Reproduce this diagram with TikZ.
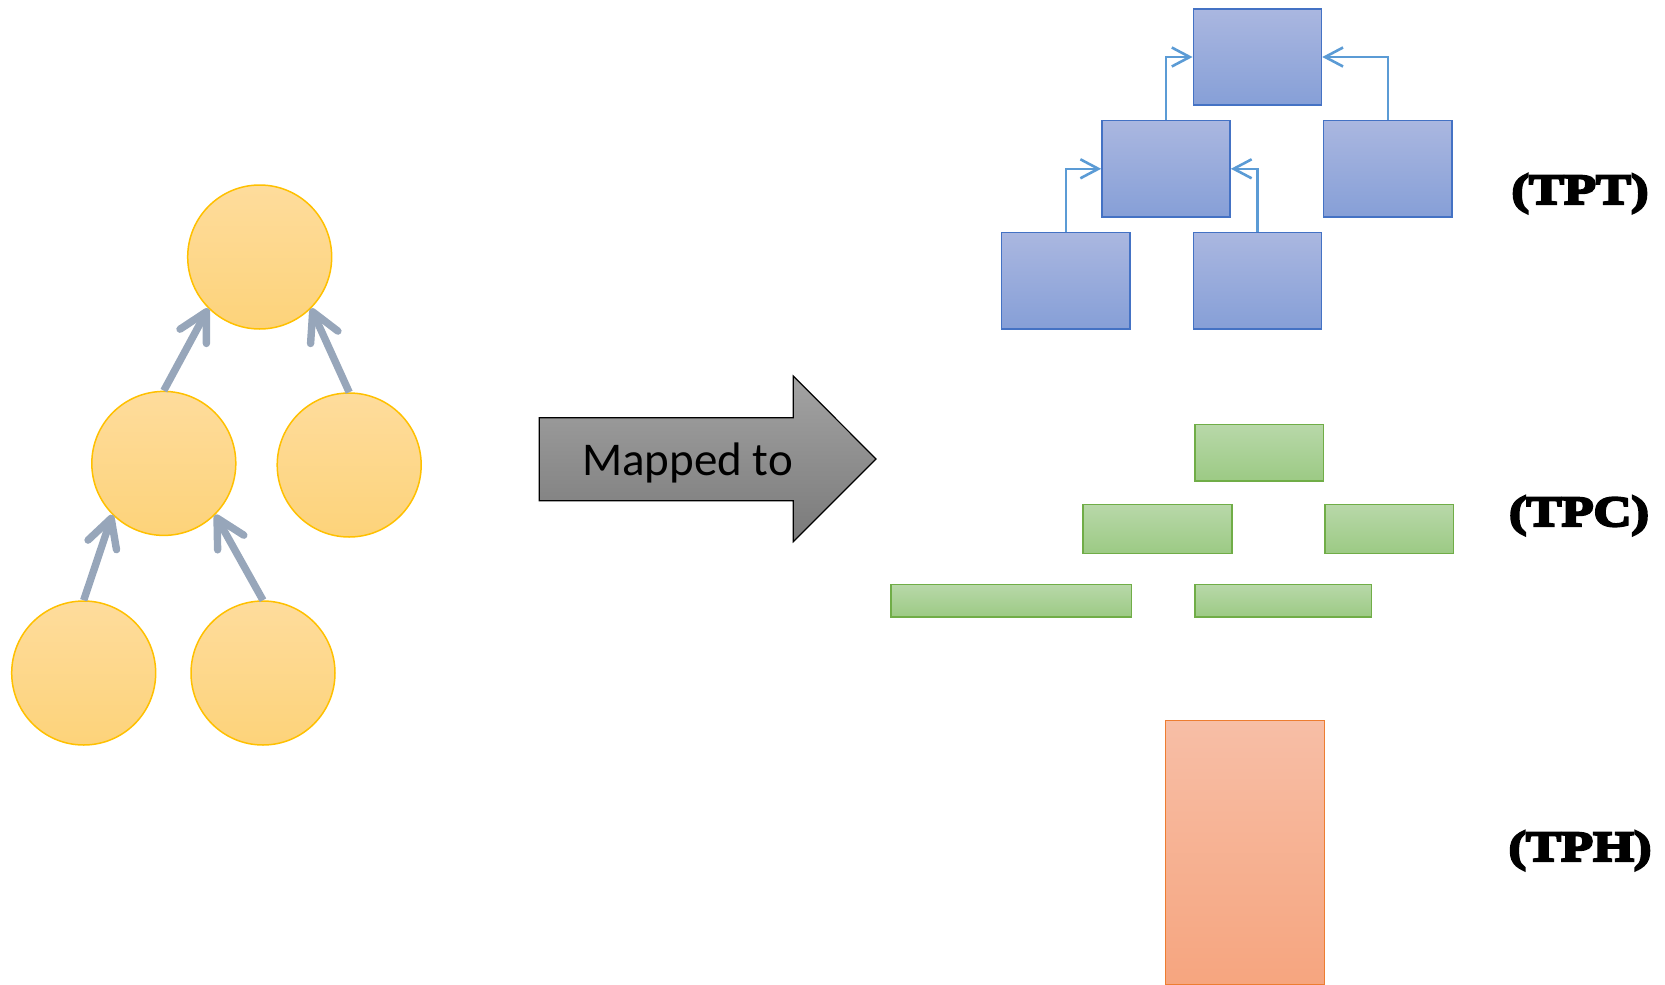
\documentclass[tikz,border=0pt]{standalone}
\usepackage{fontspec}
\usetikzlibrary{arrows.meta}
\newfontfamily\calfont{Carlito}
\newfontfamily\labelfont[BoldFeatures={FakeBold=5.5,FakeStretch=1.22}]{Liberation Serif}

\definecolor{circTop}{HTML}{FEDC9C}
\definecolor{circBot}{HTML}{FDD37A}
\definecolor{circLine}{HTML}{FFC000}
\definecolor{treeGray}{HTML}{97A6BA}
\definecolor{blueTop}{HTML}{AAB7E0}
\definecolor{blueBot}{HTML}{869FD7}
\definecolor{blueLine}{HTML}{4472C4}
\definecolor{connBlue}{HTML}{5B9BD5}
\definecolor{greenTop}{HTML}{B8D8A9}
\definecolor{greenBot}{HTML}{9CCA84}
\definecolor{greenLine}{HTML}{70AD47}
\definecolor{orangeTop}{HTML}{F7BEA6}
\definecolor{orangeBot}{HTML}{F6A57F}
\definecolor{orangeLine}{HTML}{ED7D31}
\definecolor{bigTop}{HTML}{A3A3A3}
\definecolor{bigBot}{HTML}{7A7A7A}

\tikzset{
  treenode/.style={circle, minimum size=72pt, inner sep=0pt, draw=circLine,
    line width=0.75pt, top color=circTop, bottom color=circBot},
  treearrow/.style={draw=treeGray, line width=3.7pt,
    -{Straight Barb[length=14pt,width=15pt,round]}},
  bluebox/.style={rectangle, minimum width=64.15pt, minimum height=48.15pt,
    inner sep=0pt, draw=blueLine, line width=0.7pt, top color=blueTop, bottom color=blueBot},
  blueconn/.style={draw=connBlue, line width=1.3pt,
    -{Straight Barb[length=9pt,width=9.5pt]}},
  greenbox/.style={rectangle, inner sep=0pt, draw=greenLine, line width=0.7pt,
    top color=greenTop, bottom color=greenBot},
  orangebox/.style={rectangle, inner sep=0pt, draw=orangeLine, line width=0.7pt,
    top color=orangeTop, bottom color=orangeBot},
  tag/.style={anchor=base, inner sep=0pt, font=\labelfont\bfseries\fontsize{21.5pt}{23pt}\selectfont}
}

\begin{document}
\begin{tikzpicture}[x=0.5pt, y=-0.5pt]
\useasboundingbox (0,0) rectangle (1665,985);

% tree of circles
\node[treenode] (ctop) at (259.7,257) {};
\node[treenode] (cml)  at (163.8,463.4) {};
\node[treenode] (cmr)  at (349.2,465) {};
\node[treenode] (cbl)  at (83.7,673) {};
\node[treenode] (cbm)  at (263,673) {};

\draw[treearrow] (cml.north) -- (ctop.225);
\draw[treearrow] (cmr.north) -- (ctop.315);
\draw[treearrow] (cbl.north) -- (cml.225);
\draw[treearrow] (cbm.north) -- (cml.315);

% big arrow
\shade[top color=bigTop, bottom color=bigBot, draw=black, line width=0.6pt]
  (539.3,417.7) -- (793.3,417.7) -- (793.3,376) -- (876,459)
  -- (793.3,541.7) -- (793.3,500.7) -- (539.3,500.7) -- cycle;
\node[anchor=base, inner sep=0pt, font=\calfont\fontsize{23.5pt}{28pt}\selectfont]
  (maplbl) at (687.5,475) {Mapped to};

% TPT boxes
\node[bluebox] (btop) at (1257.4,57) {};
\node[bluebox] (bml)  at (1166,168.8) {};
\node[bluebox] (bmr)  at (1387.8,168.8) {};
\node[bluebox] (bbl)  at (1065.8,280.8) {};
\node[bluebox] (bbm)  at (1257.4,280.8) {};

\draw[blueconn] (bml.north) |- (btop.west);
\draw[blueconn] (bmr.north) |- (btop.east);
\draw[blueconn] (bbl.north) |- (bml.west);
\draw[blueconn] (bbm.north) |- (bml.east);

% TPC boxes
\node[greenbox, minimum width=64.25pt, minimum height=28.35pt] (gtop) at (1259.3,452.7) {};
\node[greenbox, minimum width=74.5pt,  minimum height=24.3pt]  (gml)  at (1157.5,529) {};
\node[greenbox, minimum width=64.25pt, minimum height=24.3pt]  (gmr)  at (1389.3,529) {};
\node[greenbox, minimum width=120.25pt, minimum height=16.35pt] (gbl) at (1011.3,600.7) {};
\node[greenbox, minimum width=88.25pt, minimum height=16.35pt] (gbr)  at (1283.3,600.7) {};

% TPH box
\node[orangebox, minimum width=79.3pt, minimum height=131.8pt] (ohist) at (1245,852.5) {};

% labels
\node[tag] (ltpt) at (1580,204) {(TPT)};
\node[tag] (ltpc) at (1579,526) {(TPC)};
\node[tag] (ltph) at (1580,861) {(TPH)};
\end{tikzpicture}
\end{document}
